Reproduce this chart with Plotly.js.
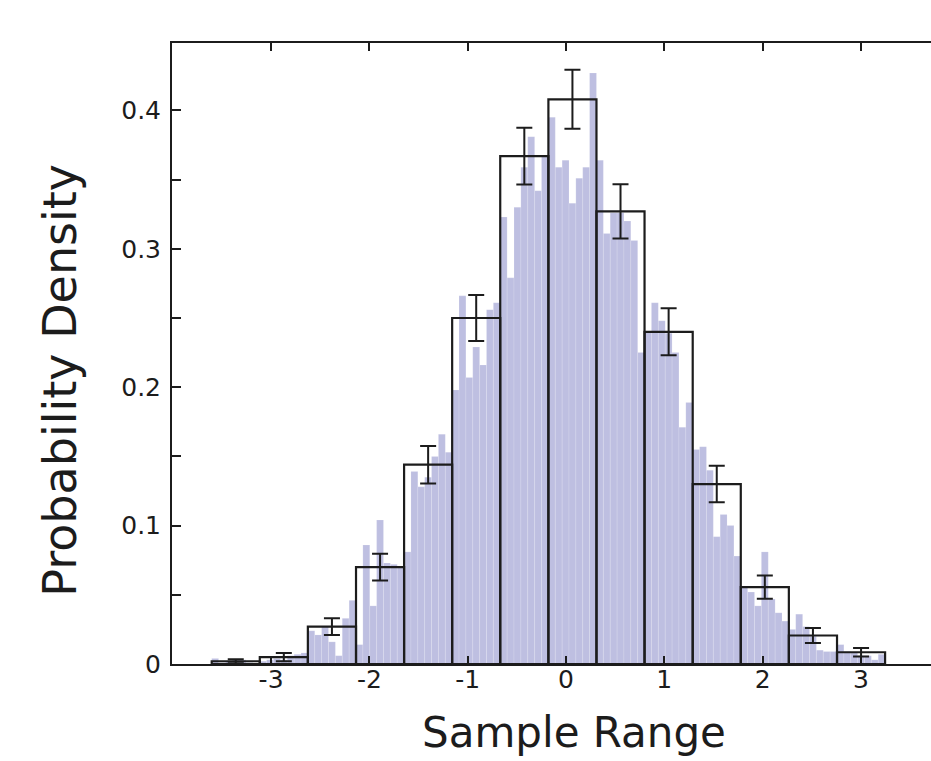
<!DOCTYPE html>
<html>
<head>
<meta charset="utf-8">
<script src="https://cdn.plot.ly/plotly-3.0.1.min.js"></script>
<style>html,body{margin:0;padding:0;background:#fff;}#chart{width:931px;height:761px;}</style>
</head>
<body>
<div id="chart"></div>
<script>
// Coarse histogram (black outline): bin edges, densities, error bars
const binEdges = [-3.604, -3.115, -2.626, -2.136, -1.647, -1.158, -0.669, -0.179, 0.310, 0.799, 1.289, 1.778, 2.267, 2.757, 3.246];
const density = [0.002, 0.005, 0.027, 0.070, 0.144, 0.250, 0.367, 0.408, 0.327, 0.240, 0.130, 0.0555, 0.0206, 0.0085];
const densityErr = [0.0015, 0.003, 0.006, 0.0097, 0.0135, 0.0166, 0.0205, 0.0213, 0.0196, 0.017, 0.0132, 0.0084, 0.0054, 0.003];

// Fine histogram (lavender): 7 sub-bins per coarse bin
const subBinsPerBin = 7;
const fineDensity = [
  0.004, 0.001, 0.002, 0.003, 0.003, 0.001, 0.0,
  0.002, 0.003, 0.004, 0.003, 0.006, 0.007, 0.008,
  0.024, 0.021, 0.027, 0.016, 0.006, 0.033, 0.046,
  0.014, 0.086, 0.042, 0.104, 0.073, 0.072, 0.070,
  0.081, 0.139, 0.128, 0.135, 0.150, 0.166, 0.153,
  0.198, 0.266, 0.207, 0.229, 0.216, 0.256, 0.261,
  0.323, 0.279, 0.330, 0.359, 0.381, 0.342, 0.367,
  0.395, 0.359, 0.364, 0.333, 0.351, 0.359, 0.427,
  0.364, 0.311, 0.326, 0.326, 0.320, 0.306, 0.225,
  0.240, 0.261, 0.248, 0.239, 0.225, 0.171, 0.189,
  0.155, 0.157, 0.140, 0.092, 0.108, 0.100, 0.078,
  0.056, 0.052, 0.042, 0.081, 0.047, 0.037, 0.031,
  0.025, 0.036, 0.027, 0.020, 0.010, 0.009, 0.009,
  0.014, 0.009, 0.008, 0.006, 0.006, 0.003, 0.007
];

const xTickVals = [-3, -2, -1, 0, 1, 2, 3];
const yTickVals = [0, 0.05, 0.1, 0.15, 0.2, 0.25, 0.3, 0.35, 0.4];
const yTickText = ['0', '', '0.1', '', '0.2', '', '0.3', '', '0.4'];

// derived geometry from data
const centers = [], widths = [];
for (let i = 0; i < binEdges.length - 1; i++) {
  centers.push((binEdges[i] + binEdges[i + 1]) / 2);
  widths.push(binEdges[i + 1] - binEdges[i]);
}
const fineX = [], fineW = [];
for (let i = 0; i < binEdges.length - 1; i++) {
  const w = (binEdges[i + 1] - binEdges[i]) / subBinsPerBin;
  for (let j = 0; j < subBinsPerBin; j++) {
    fineX.push(binEdges[i] + (j + 0.5) * w);
    fineW.push(w);
  }
}

const FONT = '"DejaVu Sans", Verdana, sans-serif';
const INK = '#1c1c1c';
const xRange = [-4.008, 3.713];
const yRange = [0, 0.4487];

const traces = [
  {
    type: 'bar', x: fineX, y: fineDensity, width: fineW,
    marker: { color: 'rgb(190,191,225)', line: { width: 0.4, color: 'rgba(255,255,255,0.35)' } },
    hoverinfo: 'x+y', showlegend: false
  },
  {
    type: 'bar', x: centers, y: density, width: widths,
    marker: { color: 'rgba(0,0,0,0)', line: { width: 2.2, color: INK } },
    error_y: { type: 'data', array: densityErr, visible: true, color: INK, thickness: 2, width: 8 },
    showlegend: false
  },
  // invisible trace to anchor the top axis
  { type: 'scatter', x: [0], y: [0], xaxis: 'x2', mode: 'markers', marker: { opacity: 0 }, hoverinfo: 'skip', showlegend: false }
];

const layout = {
  width: 931, height: 761,
  margin: { l: 172, r: 0, t: 43, b: 96.5 },
  paper_bgcolor: '#fff', plot_bgcolor: '#fff',
  barmode: 'overlay', bargap: 0,
  font: { family: FONT, color: INK },
  showlegend: false,
  xaxis: {
    range: xRange, showgrid: false, zeroline: false,
    showline: true, linecolor: INK, linewidth: 2,
    ticks: 'inside', ticklen: 8, tickwidth: 2, tickcolor: INK,
    tickvals: xTickVals, ticktext: xTickVals.map(v => String(v)),
    tickfont: { size: 25, family: FONT, color: INK },
    ticklabelstandoff: -8
  },
  xaxis2: {
    overlaying: 'x', side: 'top', range: xRange,
    showgrid: false, zeroline: false,
    showline: true, linecolor: INK, linewidth: 2,
    ticks: 'inside', ticklen: 8, tickwidth: 2, tickcolor: INK,
    tickvals: xTickVals, showticklabels: false
  },
  yaxis: {
    range: yRange, showgrid: false, zeroline: false,
    showline: true, linecolor: INK, linewidth: 2,
    ticks: 'inside', ticklen: 9, tickwidth: 2, tickcolor: INK,
    tickvals: yTickVals, ticktext: yTickText,
    tickfont: { size: 25, family: FONT, color: INK },
    ticklabelstandoff: 4
  },
  annotations: [
    { text: 'Probability Density', xref: 'paper', yref: 'paper', x: -0.147, y: 0.457,
      xanchor: 'center', yanchor: 'middle', textangle: -90, showarrow: false,
      font: { size: 46, family: FONT, color: INK } },
    { text: 'Sample Range', xref: 'paper', yref: 'paper', x: 0.53, y: -0.111,
      xanchor: 'center', yanchor: 'middle', showarrow: false, borderpad: 0,
      font: { size: 42, family: FONT, color: INK } }
  ]
};

Plotly.newPlot('chart', traces, layout, { staticPlot: true });
</script>
</body>
</html>
